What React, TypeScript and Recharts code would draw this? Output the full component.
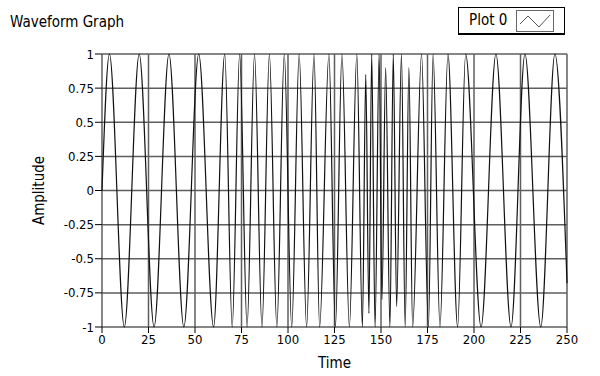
import React from "react";
import { LineChart, Line, XAxis, YAxis, CartesianGrid } from "recharts";

const times = [
  0, 4, 12, 20, 28, 36, 44, 52, 60, 66, 70, 74, 78, 82, 86, 90, 94, 98, 102,
  106, 110, 114, 117, 122, 125.5, 129, 133, 137, 140, 141.8, 143.5, 145, 146.8,
  149, 150.5, 152.5, 154.8, 156.6, 158.4, 161, 163, 165, 167, 171.8, 175.5,
  178, 181.7, 186, 191.2, 195.5, 203.8, 211.8, 219.9, 227.4, 235.9, 243.5, 250,
];
const amplitudes = [
  0, 1, -1, 1, -1, 1, -1, 1, -1, 1, -1, 1, -1, 1, -1, 1, -1, 1, -1, 1, -1, 1,
  -1, 1, -1, 1, -1, 1, -1, 0.85, -0.9, 1, -1, 1, -0.8, 0.9, -1, 1, -0.85, 1,
  -1, 0.9, -1, 1, -1, 1, -1, 1, -1, 1, -1, 1, -1, 1, -1, 1, -0.68,
];
const xTicks = [0, 25, 50, 75, 100, 125, 150, 175, 200, 225, 250];
const yTicks = [-1, -0.75, -0.5, -0.25, 0, 0.25, 0.5, 0.75, 1];

const data = times.map((t, i) => ({ time: t, amp: amplitudes[i] }));

const font =
  "'Liberation Sans Narrow', 'DejaVu Sans Condensed', 'Liberation Sans', sans-serif";
const tickStyle = {
  fontSize: 13,
  fill: "#000",
  fontFamily: font,
  fontStretch: "condensed",
};

export default function App() {
  return (
    <div
      style={{
        position: "absolute",
        left: 0,
        top: 0,
        width: 600,
        height: 376,
        background: "#fff",
        fontFamily: font,
        fontStretch: "condensed",
      }}
    >
      <div style={{ position: "absolute", left: 10, top: 13, fontSize: 15 }}>
        Waveform Graph
      </div>
      <div
        style={{
          position: "absolute",
          left: 458,
          top: 7,
          width: 105,
          height: 25,
          border: "1px solid #000",
          borderBottomWidth: 2,
        }}
      >
        <span style={{ position: "absolute", left: 10, top: 3, fontSize: 15 }}>
          Plot 0
        </span>
        <svg
          width={36}
          height={20}
          style={{
            position: "absolute",
            left: 57,
            top: 2,
            border: "1px solid #666",
          }}
        >
          <polyline
            points="3,13 11,5 22,16 33,4"
            fill="none"
            stroke="#555"
            strokeWidth={1}
          />
        </svg>
      </div>
      <LineChart
        width={600}
        height={376}
        data={data}
        margin={{ top: 54, right: 33, bottom: 0, left: 0 }}
      >
        <CartesianGrid stroke="#5e5e5e" strokeWidth={1.5} />
        <XAxis
          dataKey="time"
          type="number"
          domain={[0, 250]}
          ticks={xTicks}
          interval={0}
          height={49}
          tickSize={6}
          tickMargin={2}
          axisLine={false}
          tickLine={{ stroke: "#000" }}
          tick={tickStyle}
          label={{
            value: "Time",
            position: "insideBottom",
            offset: 8,
            style: { ...tickStyle, fontSize: 15 },
          }}
        />
        <YAxis
          type="number"
          domain={[-1, 1]}
          ticks={yTicks}
          interval={0}
          width={102}
          tickSize={7}
          tickMargin={1}
          axisLine={false}
          tickLine={{ stroke: "#000" }}
          tick={tickStyle}
          tickFormatter={(v: number) => String(v)}
          label={{
            value: "Amplitude",
            angle: -90,
            position: "insideLeft",
            offset: 39,
            style: { ...tickStyle, fontSize: 15, textAnchor: "middle" },
          }}
        />
        <Line
          type="monotone"
          dataKey="amp"
          stroke="#111"
          strokeWidth={1.2}
          dot={false}
          isAnimationActive={false}
        />
      </LineChart>
    </div>
  );
}
